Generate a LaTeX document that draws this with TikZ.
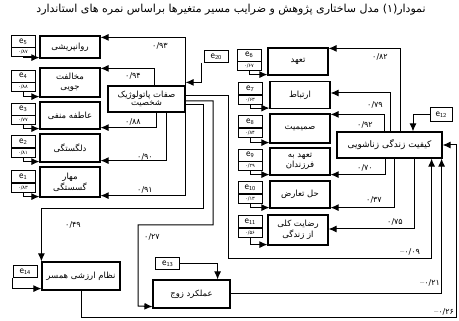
\documentclass[tikz,border=0pt]{standalone}
\usepackage{fontspec}
\newfontfamily\pfont[Script=Arabic]{DejaVu Sans}
\TeXXeTstate=1
\usetikzlibrary{arrows.meta}
\newcommand{\fa}[1]{\beginR #1\endR}
\newcommand{\ee}[1]{e\raisebox{-0.3ex}{\fontsize{6}{6}\selectfont #1}}
\newcommand{\negnum}[1]{\hbox{\rmfamily\textendash}\hbox{#1}}

\tikzset{
  var/.style={draw, line width=1.2pt, minimum width=60pt, minimum height=27pt, inner sep=1pt, align=center, font=\pfont\fontsize{8.5}{9.5}\selectfont},
  err/.style={draw, line width=0.9pt, minimum width=24pt, minimum height=12pt, inner sep=0pt, font=\sffamily\fontsize{10}{10}\selectfont},
  ld/.style={draw, line width=0.5pt, minimum width=24pt, minimum height=9pt, inner sep=0pt, font=\pfont\fontsize{5}{5}\selectfont},
  cf/.style={font=\pfont\fontsize{8}{8}\selectfont, inner sep=1pt},
  lnk/.style={line width=1pt, ->}
}

\begin{document}
\begin{tikzpicture}[x=1pt, y=-1pt, >={Latex[length=8pt,width=7pt]}]
\useasboundingbox (0,0) rectangle (459,321);

\node[font=\pfont\fontsize{11}{11}\selectfont] (ttl) at (231,10) {\fa{نمودار(۱) مدل ساختاری پژوهش و ضرایب مسیر متغیرها براساس نمره های استاندارد}};

% left side
\node[var] (r1) at (70,47) [minimum height=22pt] {\fa{روانپریشی}};
\node[var] (r2) at (70,82.5) [minimum height=29pt] {\fa{مخالفت}\\\fa{جویی}};
\node[var] (r3) at (70,115.5) {\fa{عاطفه منفی}};
\node[var] (r4) at (70,148) [minimum height=28pt] {\fa{دلگستگی}};
\node[var] (r5) at (70,182) [minimum height=30pt] {\fa{مهار}\\\fa{گسستگی}};

\node[err] (e5) at (23,41.5) {\ee{5}};
\node[ld] (l5) at (23,52) {۰/۸۷};
\node[err] (e4) at (23,76) {\ee{4}};
\node[ld] (l4) at (23,87) {۰/۸۸};
\node[err] (e3) at (23,109) {\ee{3}};
\node[ld] (l3) at (23,120) {۰/۷۷};
\node[err] (e2) at (23,141.5) {\ee{2}};
\node[ld] (l2) at (23,153) {۰/۸۱};
\node[err] (e1) at (23,176.5) {\ee{1}};
\node[ld] (l1) at (23,188) {۰/۸۳};

\node[var] (p) at (146.5,99) [minimum width=77pt, minimum height=26pt, font=\pfont\fontsize{8.5}{8.5}\selectfont] {\fa{صفات پاتولوژیک}\\\fa{شخصیت}};
\node[err] (e20) at (216,56.5) {\ee{20}};

% right side
\node[var] (t1) at (298,61.5) {\fa{تعهد}};
\node[var] (t2) at (300,95) {\fa{ارتباط}};
\node[var] (t3) at (300,128.5) [minimum height=29pt] {\fa{صمیمیت}};
\node[var] (t4) at (300,161.5) {\fa{تعهد به}\\\fa{فرزندان}};
\node[var] (t5) at (300,194.5) {\fa{حل تعارض}};
\node[var] (t6) at (298,230) [minimum height=30pt] {\fa{رضایت کلی}\\\fa{از زندگی}};

\node[err] (e6) at (249,55) {\ee{6}};
\node[ld] (l6) at (249,66) {۰/۶۷};
\node[err] (e7) at (250,88.5) {\ee{7}};
\node[ld] (l7) at (250,99.5) {۰/۶۳};
\node[err] (e8) at (250,121.5) {\ee{8}};
\node[ld] (l8) at (250,132.5) {۰/۸۴};
\node[err] (e9) at (250,155) {\ee{9}};
\node[ld] (l9) at (250,166) {۰/۲۹};
\node[err] (e10) at (250,187.5) {\ee{10}};
\node[ld] (l10) at (250,198.5) {۰/۱۳};
\node[err] (e11) at (250,221.5) {\ee{11}};
\node[ld] (l11) at (250,232.5) {۰/۵۶};

\node[var] (k) at (389.5,145) [minimum width=105pt, minimum height=26pt, font=\pfont\fontsize{9}{9}\selectfont] {\fa{کیفیت زندگی زناشویی}};
\node[err] (e12) at (441,114.5) [minimum width=22pt, minimum height=14pt] {\ee{12}};

% bottom
\node[var] (n) at (81,276) [minimum width=78pt, minimum height=28pt] {\fa{نظام ارزشی همسر}};
\node[err] (e14) at (25,271.5) {\ee{14}};
\node[var] (z) at (191.5,294) [minimum width=77pt, minimum height=28pt] {\fa{عملکرد زوج}};
\node[err] (e13) at (167.5,263.5) {\ee{13}};

\coordinate (c49) at (203,209);
\coordinate (c27a) at (213,225);
\coordinate (c27b) at (138,306);
\coordinate (c09) at (228,259);
\coordinate (c26) at (456,318);

% paths from personality traits
\draw[lnk] (p.north east) |- ([yshift=-2]r1.north east);
\draw[lnk] ([xshift=8]p.north) |- ([yshift=-1]r2.north east);
\draw[lnk] ([xshift=10]p.south) |- ([yshift=2]r3.south east);
\draw[lnk] ([xshift=20]p.south) |- ([yshift=2]r4.south east);
\draw[lnk] (p.south east) |- ([yshift=2]r5.south east);
\draw[lnk] ([yshift=-6]p.east) -| (c49) -| (n.north west);
\draw[lnk] ([yshift=-2]p.east) -| (c27a) -| (c27b) -- ([yshift=2]z.south west);
\draw[lnk] ([yshift=3]p.east) -| (c09) -| ([xshift=-11]k.south east);
\draw[lnk] ([xshift=-2]e20.south west) |- ([yshift=3]p.north east);

% paths from marital quality
\draw[lnk] ([xshift=10.5]k.north) |- ([yshift=-1]t1.north east);
\draw[lnk] ([xshift=0.5]k.north) |- ([yshift=2]t2.east);
\draw[lnk] ([xshift=-5.5]k.north) |- ([yshift=-1]t3.north east);
\draw[lnk] ([xshift=-4.5]k.south) |- ([yshift=1]t4.south east);
\draw[lnk] ([xshift=4.5]k.south) |- ([yshift=1]t5.south east);
\draw[lnk] ([xshift=24.5]k.south) |- ([yshift=1]t6.east);
\draw[lnk] (e12.west) -| ([xshift=23.5]k.north);
\draw[lnk] (z.east) -| ([xshift=-1]k.south east);
\draw[lnk] (n.south) |- (c26) |- (k.east);
\draw[lnk] (e13.east) -| ([xshift=-13]z.north east);
\draw[lnk] (e14.south west) |- ([yshift=2]n.south west);

% error terms
\foreach \i/\j in {5/1,4/2,3/3,2/4,1/5}
  \draw[lnk] (l\i.south) |- ([yshift=1]r\j.south west);
\foreach \i/\j in {6/1,7/2,8/3,9/4,10/5,11/6}
  \draw[lnk] (l\i.south) |- ([yshift=1]t\j.south west);

% coefficients
\node[cf] (c93) at (160,46) {۰/۹۳};
\node[cf] (c94) at (133,76) {۰/۹۴};
\node[cf] (c88) at (133,122) {۰/۸۸};
\node[cf] (c90) at (145,157) {۰/۹۰};
\node[cf] (c91) at (145,190) {۰/۹۱};
\node[cf] (c49t) at (73,225) {۰/۴۹};
\node[cf] (c27t) at (152,237) {۰/۲۷};
\node[cf] (c82) at (380,57) {۰/۸۲};
\node[cf] (c79) at (375,105) {۰/۷۹};
\node[cf] (c92) at (365,125) {۰/۹۲};
\node[cf] (c70) at (365,168) {۰/۷۰};
\node[cf] (c37) at (374,200) {۰/۳۷};
\node[cf] (c75) at (395,222) {۰/۷۵};
\node[cf] (c09t) at (410,252) {\negnum{۰/۰۹}};
\node[cf] (c21) at (430,283) {\negnum{۰/۲۱}};
\node[cf] (c26t) at (444,312) {\negnum{۰/۲۶}};

\end{tikzpicture}
\end{document}
